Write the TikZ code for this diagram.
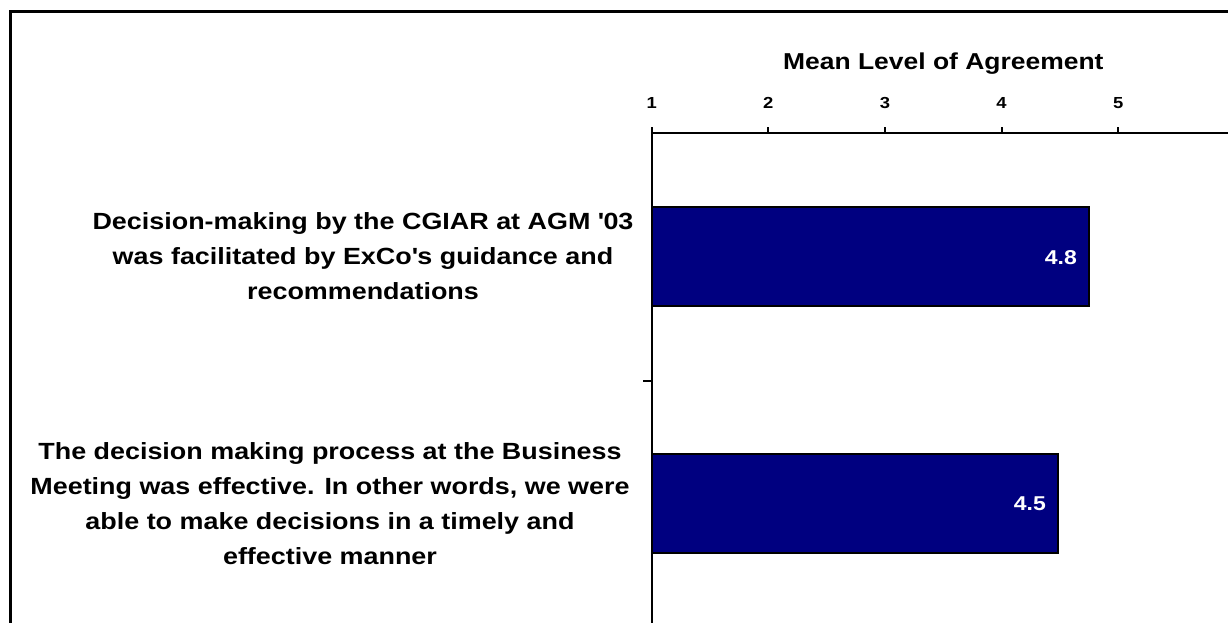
\documentclass[tikz,border=0pt]{standalone}
\usepackage{fontspec}
\setmainfont{Liberation Sans}[FakeStretch=1.15]
\usepackage{tikz}
\definecolor{barblue}{RGB}{0,0,128}

\begin{document}
\begin{tikzpicture}[x=1pt, y=-1pt, font=\bfseries,
    catlabel/.style={align=center, font=\bfseries\fontsize{23.4}{35}\selectfont},
    vallabel/.style={anchor=base east, inner sep=0pt, text=white, font=\bfseries\fontsize{20}{20}\selectfont}]
  \clip (0, 0) rectangle (1228, 622);

  % outer frame
  \draw [line width=2.5pt] (10.7, 650) -- (10.7, 11.3) -- (1250, 11.3);

  % bars
  \filldraw [fill=barblue, draw=black, line width=2pt] (651.7, 206.7) rectangle (1089, 306);
  \filldraw [fill=barblue, draw=black, line width=2pt] (651.7, 454.3) rectangle (1057.7, 553.3);

  % axes
  \draw [line width=2pt] (651.7, 650) -- (651.7, 133.3) -- (1250, 133.3);
  \foreach \x in {1,...,6} {
    \draw [line width=2pt] (535.1+116.6*\x, 133.3) -- ++(0, -6.5);
    \node (t\x) at (535.1+116.6*\x, 108.3) [anchor=base, inner sep=0pt, font=\bfseries\fontsize{16}{16}\selectfont] {\x};
  }
  \draw [line width=2pt] (651.7, 380.7) -- (642.7, 380.7);

  \node (title) at (943.3, 69.3) [anchor=base, inner sep=0pt, font=\bfseries\fontsize{23}{23}\selectfont] {Mean Level of Agreement};

  \node (v1) at (1077, 264) [vallabel] {4.8};
  \node (v2) at (1046, 510.3) [vallabel] {4.5};

  \node (cat1) at (363, 256.5) [catlabel] {Decision-making by the CGIAR at AGM \textquotesingle03\\was facilitated by ExCo\textquotesingle s guidance and\\recommendations};
  \node (cat2) at (330, 503.8) [catlabel] {The decision making process at the Business\\Meeting was effective. In other words, we were\\able to make decisions in a timely and\\effective manner};

\end{tikzpicture}
\end{document}
